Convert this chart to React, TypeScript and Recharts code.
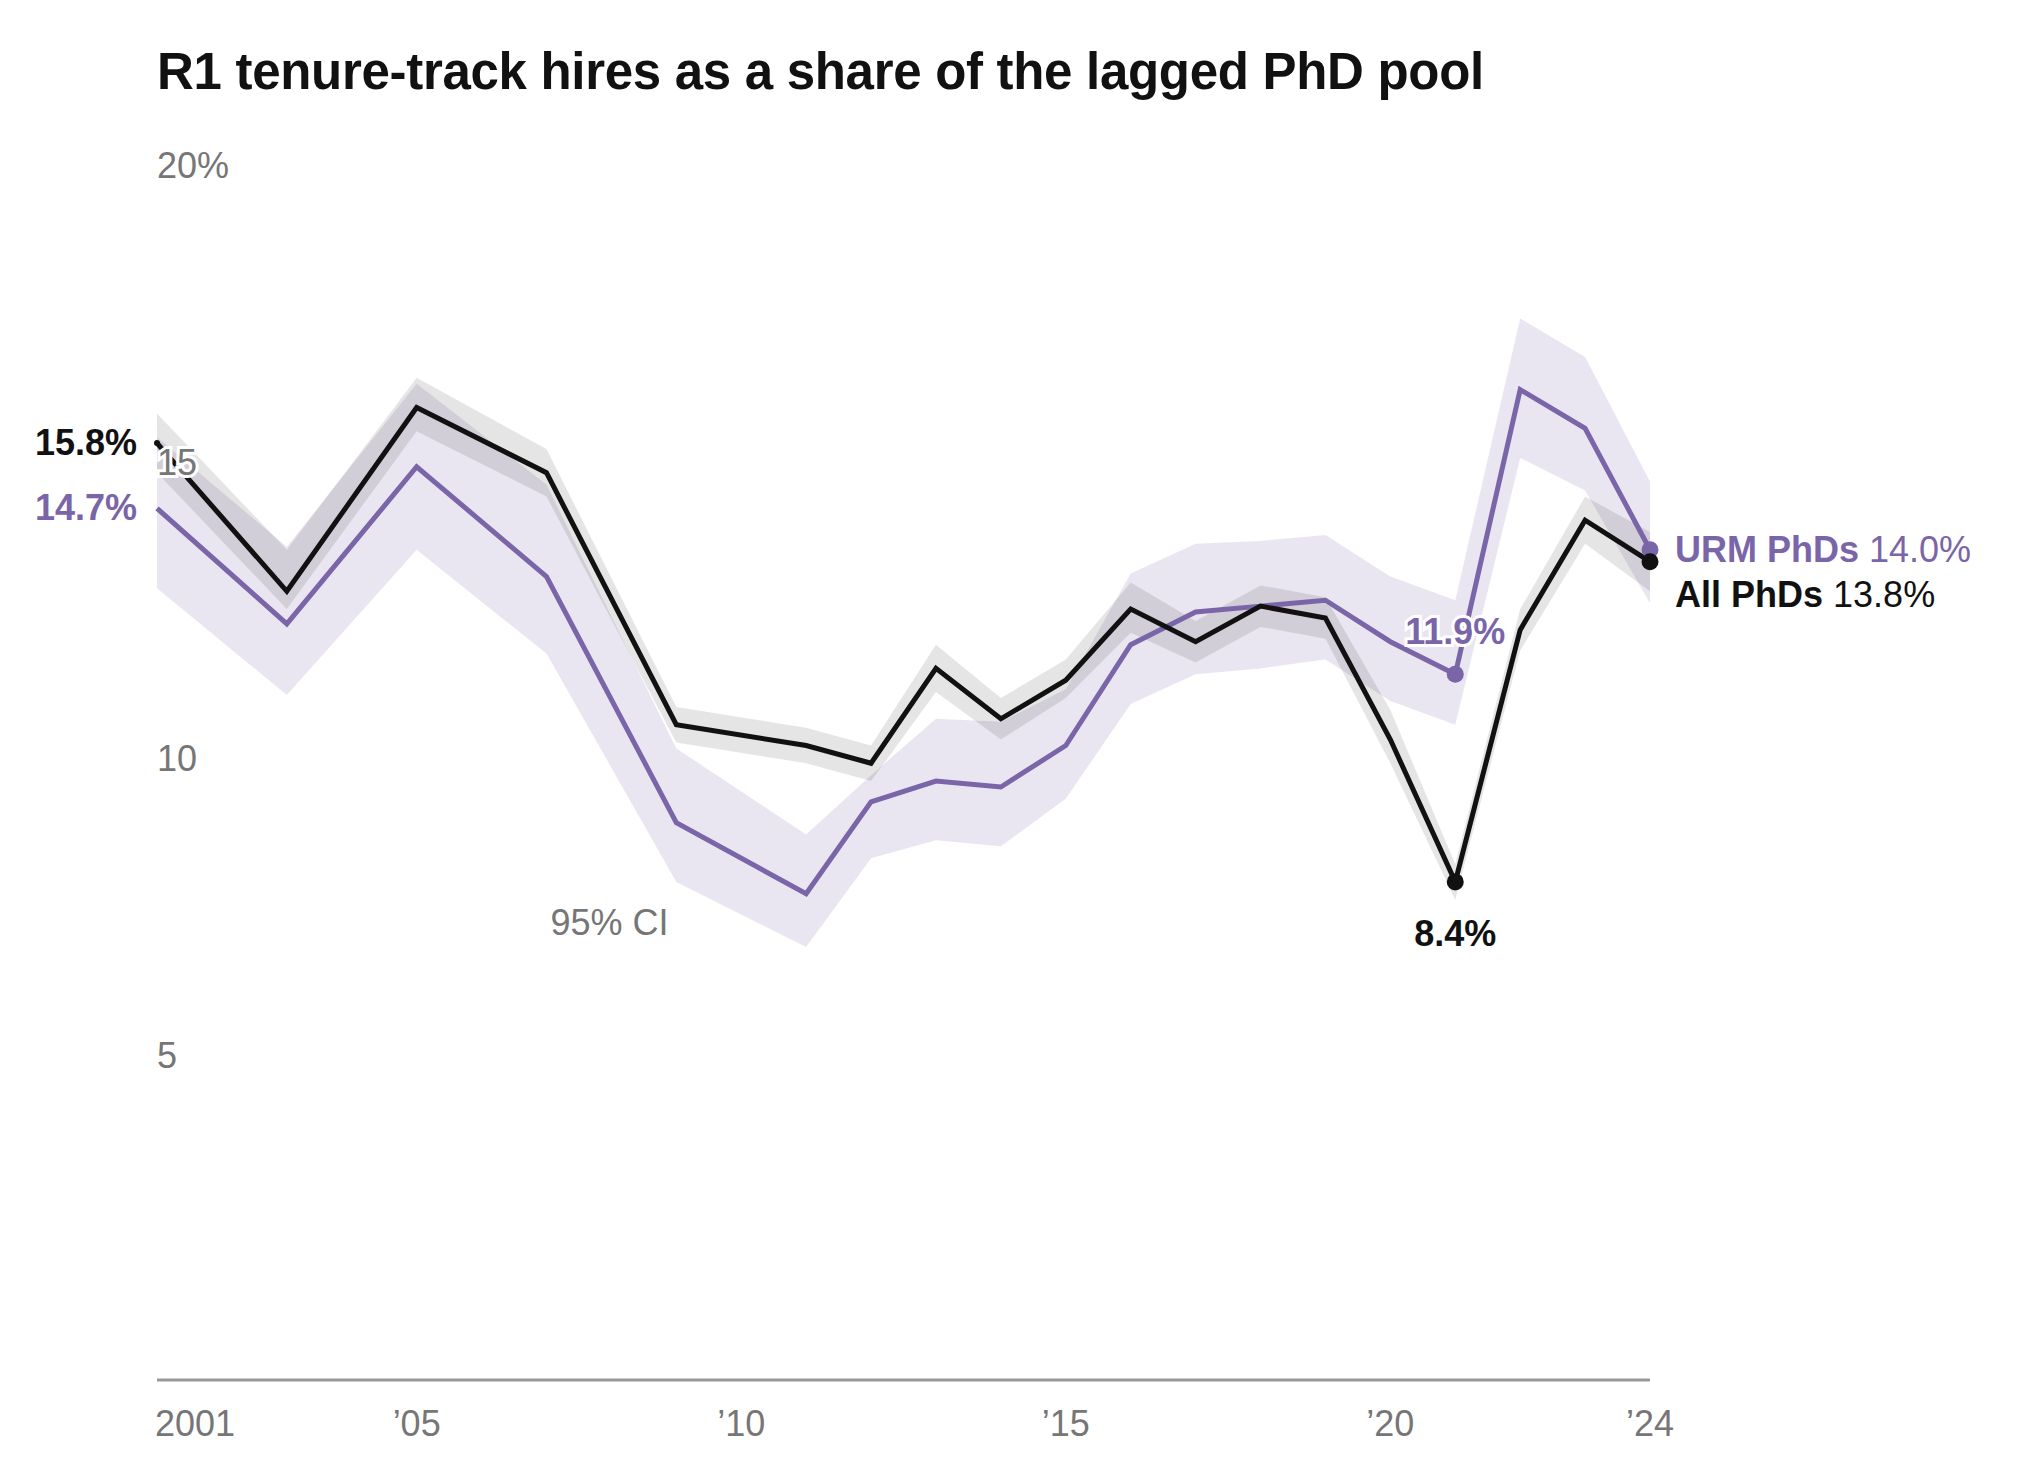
import React from "react";
import { ComposedChart, Area, Line, XAxis, YAxis, CartesianGrid, ReferenceDot } from "recharts";

const years = [2001, 2003, 2005, 2007, 2009, 2011, 2012, 2013, 2014, 2015, 2016, 2017, 2018, 2019, 2020, 2021, 2022, 2023, 2024];
const allValues = [15.8, 13.3, 16.4, 15.3, 11.05, 10.7, 10.4, 12.0, 11.15, 11.8, 13.0, 12.45, 13.05, 12.85, 10.8, 8.4, 12.65, 14.5, 13.8];
const allLow = [15.3, 13.0, 16.0, 14.9, 10.75, 10.4, 10.1, 11.6, 10.8, 11.5, 12.6, 12.1, 12.7, 12.5, 10.4, 8.1, 12.3, 14.1, 13.3];
const allHigh = [16.3, 14.0, 16.9, 15.7, 11.35, 11.0, 10.7, 12.4, 11.5, 12.15, 13.45, 12.8, 13.4, 13.2, 11.3, 8.7, 13.0, 14.9, 14.3];
const urmValues = [14.7, 12.75, 15.4, 13.55, 9.4, 8.2, 9.75, 10.1, 10.0, 10.7, 12.4, 12.95, 13.05, 13.15, 12.45, 11.9, 16.7, 16.05, 14.0];
const urmLow = [13.35, 11.55, 14.0, 12.25, 8.4, 7.3, 8.8, 9.1, 9.0, 9.8, 11.4, 11.9, 12.0, 12.15, 11.45, 11.05, 15.55, 15.0, 13.1];
const urmHigh = [15.9, 14.05, 16.8, 15.1, 10.65, 9.2, 10.2, 11.15, 11.1, 11.65, 13.6, 14.1, 14.15, 14.25, 13.55, 13.15, 17.9, 17.25, 15.15];
const xTicks = [2001, 2005, 2010, 2015, 2020, 2024];
const xTickLabels = ["2001", "’05", "’10", "’15", "’20", "’24"];
const yTicks = [0, 5, 10, 15, 20];
const yTickLabels = ["", "5", "10", "15", "20%"];

const data = years.map((y, i) => ({
  year: y,
  all: allValues[i],
  allBand: [allLow[i], allHigh[i]],
  urm: urmValues[i],
  urmBand: [urmLow[i], urmHigh[i]],
}));

const FONT = "'Liberation Sans', Arial, Helvetica, sans-serif";
const PURPLE = "#7a65a8";
const BLACK = "#111111";
const GRAY = "#767676";
const FS = 36;
const last = years.length - 1;
const i2021 = years.indexOf(2021);

const XTick = (p: any) => {
  const idx = xTicks.indexOf(p.payload.value);
  const anchor = idx === 0 ? "start" : "middle";
  const dx = idx === 0 ? -2 : 0;
  return (
    <text x={p.x + dx} y={p.y + 48} textAnchor={anchor} fontSize={FS} fill={GRAY} fontFamily={FONT}>
      {xTickLabels[idx]}
    </text>
  );
};

const allDot = (p: any) => {
  if (p.index === i2021 || p.index === last) return <circle key={p.index} cx={p.cx} cy={p.cy} r={8.5} fill={BLACK} />;
  if (p.index === 0) return <circle key={p.index} cx={p.cx} cy={p.cy} r={3} fill={BLACK} />;
  return <g key={p.index} />;
};
const urmDot = (p: any) => {
  if (p.index === i2021 || p.index === last) return <circle key={p.index} cx={p.cx} cy={p.cy} r={8.5} fill={PURPLE} />;
  return <g key={p.index} />;
};

const allLabel = (p: any) => {
  if (p.index === 0)
    return <text key="a0" x={p.x - 20} y={p.y + 12} textAnchor="end" fontSize={FS} fontWeight={700} fill={BLACK} fontFamily={FONT}>{allValues[0].toFixed(1)}%</text>;
  if (p.index === i2021)
    return <text key="a21" x={p.x} y={p.y + 64} textAnchor="middle" fontSize={FS} fontWeight={700} fill={BLACK} fontFamily={FONT}>{allValues[i2021].toFixed(1)}%</text>;
  if (p.index === last)
    return <text key="al" x={p.x + 25} y={p.y + 45} textAnchor="start" fontSize={FS} fill={BLACK} fontFamily={FONT}><tspan fontWeight={700}>All PhDs</tspan> {allValues[last].toFixed(1)}%</text>;
  return null;
};
const urmLabel = (p: any) => {
  if (p.index === 0)
    return <text key="u0" x={p.x - 20} y={p.y + 12} textAnchor="end" fontSize={FS} fontWeight={700} fill={PURPLE} fontFamily={FONT}>{urmValues[0].toFixed(1)}%</text>;
  if (p.index === i2021)
    return <text key="u21" x={p.x} y={p.y - 30} textAnchor="middle" fontSize={FS} fontWeight={700} fill={PURPLE} fontFamily={FONT} stroke="#fff" strokeWidth={6} paintOrder="stroke">{urmValues[i2021].toFixed(1)}%</text>;
  if (p.index === last)
    return <text key="ul" x={p.x + 25} y={p.y + 12} textAnchor="start" fontSize={FS} fill={PURPLE} fontFamily={FONT}><tspan fontWeight={700}>URM PhDs</tspan> {urmValues[last].toFixed(1)}%</text>;
  return null;
};

export default function App() {
  return (
    <div style={{ position: "absolute", left: 0, top: 0, width: 2040, height: 1470, background: "#fff" }}>
      <div style={{ position: "absolute", left: 157, top: 42, fontFamily: FONT, fontWeight: 700, fontSize: 51, color: BLACK, letterSpacing: -0.3 }}>
        R1 tenure-track hires as a share of the lagged PhD pool
      </div>
      <ComposedChart width={2040} height={1470} data={data} margin={{ top: 194, right: 390, bottom: 60, left: 157 }}>
        <CartesianGrid vertical={false} stroke="#dddddd" strokeWidth={2.5} horizontalValues={[5, 10, 15, 20]} />
        <XAxis dataKey="year" type="number" domain={[2001, 2024]} ticks={xTicks} tick={XTick} tickLine={false}
          axisLine={{ stroke: "#999", strokeWidth: 3 }} interval={0} />
        <YAxis type="number" domain={[0, 20]} ticks={yTicks} tick={false} axisLine={false} tickLine={false} width={0} />
        <Area dataKey="urmBand" stroke="none" fill={PURPLE} fillOpacity={0.16} isAnimationActive={false} activeDot={false} />
        <Area dataKey="allBand" stroke="none" fill="#000" fillOpacity={0.1} isAnimationActive={false} activeDot={false} />
        <Line dataKey="urm" stroke={PURPLE} strokeWidth={5} dot={urmDot} label={urmLabel} isAnimationActive={false} activeDot={false} />
        <Line dataKey="all" stroke={BLACK} strokeWidth={5} dot={allDot} label={allLabel} isAnimationActive={false} activeDot={false} />
        {yTicks.slice(1).map((t, i) => (
          <ReferenceDot key={t} x={2001} y={t} r={0} stroke="none" fill="none"
            label={(p: any) => (
              <text x={p.viewBox.x} y={p.viewBox.y - 16} textAnchor="start" fontSize={FS} fill={GRAY} fontFamily={FONT}
                stroke="#fff" strokeWidth={t === 15 ? 6 : 0} paintOrder="stroke">{yTickLabels[i + 1]}</text>
            )} />
        ))}
        <ReferenceDot x={2007} y={7.7} r={0} stroke="none" fill="none"
          label={(p: any) => <text x={p.viewBox.x + 4} y={p.viewBox.y + 12} fontSize={FS} fill={GRAY} fontFamily={FONT}>95% CI</text>} />
      </ComposedChart>
    </div>
  );
}
